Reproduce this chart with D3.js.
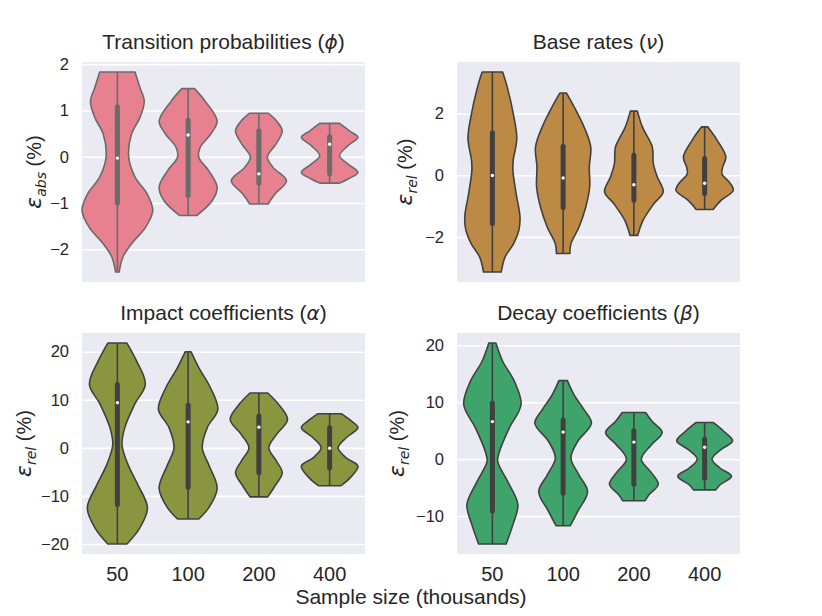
<!DOCTYPE html>
<html>
<head>
<meta charset="utf-8">
<script src="https://cdn.jsdelivr.net/npm/d3@7"></script>
<style>
  body { margin: 0; background: #fff; }
  text { font-family: "Liberation Sans", Arial, sans-serif; fill: #262626; }
</style>
</head>
<body>
<script>
// categories and labels
var sampleSizes = ["50", "100", "200", "400"];
var titles = ["Transition probabilities", "Base rates", "Impact coefficients", "Decay coefficients"];
var greek = ["ϕ", "ν", "α", "β"];
var errSub = ["abs", "rel", "rel", "rel"];
var yTicks = [[-2, -1, 0, 1, 2], [-2, 0, 2], [-20, -10, 0, 10, 20], [-10, 0, 10, 20]];

// violin outlines: [error value, relative width]
var phiShape = [
  [[1.83,0.50],[1.49,0.64],[1.2,0.76],[0.85,0.64],[0.49,0.40],[-0.01,0.32],[-0.44,0.50],[-0.8,0.84],[-1.16,1.0],[-1.52,0.80],[-1.88,0.40],[-2.16,0.16],[-2.49,0.05]],
  [[1.47,0.18],[1.2,0.48],[0.77,0.82],[0.49,0.64],[0.2,0.34],[-0.01,0.30],[-0.3,0.58],[-0.66,0.82],[-0.95,0.68],[-1.27,0.24]],
  [[0.94,0.26],[0.77,0.50],[0.56,0.66],[0.27,0.48],[-0.01,0.24],[-0.23,0.40],[-0.52,0.78],[-0.8,0.46],[-1.02,0.26]],
  [[0.72,0.28],[0.56,0.56],[0.42,0.80],[0.24,0.52],[0.02,0.28],[-0.16,0.52],[-0.34,0.80],[-0.48,0.52],[-0.57,0.28]]
];
var nuShape = [
  [[3.35,0.29],[2.86,0.42],[2.0,0.59],[1.19,0.69],[0.49,0.59],[0.16,0.58],[-0.59,0.67],[-1.35,0.78],[-1.78,0.75],[-2.22,0.60],[-2.65,0.36],[-3.14,0.25]],
  [[2.67,0.09],[2.22,0.31],[1.57,0.59],[0.92,0.78],[0.27,0.74],[-0.38,0.75],[-1.03,0.64],[-1.68,0.45],[-2.22,0.22],[-2.54,0.19]],
  [[2.08,0.10],[1.57,0.24],[0.92,0.52],[0.38,0.55],[-0.05,0.66],[-0.54,0.83],[-0.92,0.57],[-1.46,0.26],[-1.95,0.11]],
  [[1.57,0.085],[1.14,0.35],[0.59,0.60],[0.27,0.51],[0.05,0.49],[-0.27,0.73],[-0.49,0.81],[-0.81,0.47],[-1.11,0.24]]
];
var alphaShape = [
  [[21.8,0.27],[18.1,0.54],[13.2,0.79],[9.1,0.49],[4.2,0.21],[0.7,0.13],[-3.5,0.30],[-7.7,0.58],[-12.5,0.85],[-16.7,0.63],[-20.0,0.27]],
  [[20.0,0.08],[16.7,0.30],[12.5,0.63],[8.0,0.84],[4.2,0.54],[0.0,0.40],[-3.5,0.58],[-8.4,0.82],[-12.5,0.58],[-14.8,0.30]],
  [[11.4,0.25],[9.1,0.55],[5.9,0.81],[2.8,0.50],[0.0,0.28],[-2.8,0.50],[-5.2,0.66],[-8.0,0.45],[-10.2,0.25]],
  [[7.1,0.33],[5.6,0.61],[4.2,0.80],[2.1,0.47],[0.0,0.24],[-2.1,0.47],[-3.8,0.80],[-6.3,0.57],[-7.9,0.31]]
];
var betaShape = [
  [[20.4,0.10],[17.2,0.29],[13.7,0.62],[9.6,0.81],[5.5,0.48],[1.35,0.20],[-0.4,0.15],[-3.9,0.43],[-8.0,0.72],[-11.5,0.58],[-14.9,0.39]],
  [[13.8,0.12],[11.3,0.31],[8.7,0.59],[6.3,0.80],[3.1,0.41],[0.2,0.22],[-2.8,0.45],[-5.7,0.69],[-9.2,0.41],[-11.7,0.20]],
  [[8.2,0.33],[6.6,0.52],[4.7,0.80],[2.5,0.49],[0.0,0.21],[-2.2,0.47],[-4.4,0.69],[-6.3,0.42],[-7.3,0.32]],
  [[6.45,0.24],[4.9,0.54],[3.2,0.79],[1.6,0.44],[0.0,0.21],[-1.6,0.44],[-3.0,0.76],[-4.5,0.44],[-5.4,0.31]]
];

// inner boxes: [q1, median, q3]
var phiBox = [[-1.0,-0.03,1.08],[-0.84,0.47,0.79],[-0.57,-0.37,0.56],[-0.37,0.27,0.43]];
var nuBox = [[-1.57,-0.01,1.38],[-1.05,-0.09,0.94],[-0.81,-0.31,0.66],[-0.59,-0.26,0.54]];
var alphaBox = [[-11.8,9.4,13.2],[-8.2,5.4,8.85],[-5.2,4.3,6.6],[-4.2,-0.1,4.2]];
var betaBox = [[-9.1,6.6,9.85],[-6.0,4.75,6.9],[-4.4,3.0,5.0],[-3.35,2.1,3.5]];

var shapes = [phiShape, nuShape, alphaShape, betaShape];
var boxes = [phiBox, nuBox, alphaBox, betaBox];
var fills = ["#e7808f", "#bc8a44", "#8a963f", "#3fa46b"];
var edges = ["#6b6b6b", "#404040", "#404040", "#404040"];

var svg = d3.select("body").append("svg")
    .attr("width", 822)
    .attr("height", 616);

// panel boxes in pixels
var cols = [[82, 365], [457, 740]];
var rows = [[62, 282], [333, 554]];
var labelX = [41, 412, 31, 404];

shapes.forEach(function(shape, k) {
    var col = cols[k % 2], row = rows[Math.floor(k / 2)];
    var g = svg.append("g");

    // y extent from data, padded 5% like matplotlib
    var all = [];
    shape.forEach(function(s) { s.forEach(function(p) { all.push(p[0]); }); });
    var ext = d3.extent(all), pad = (ext[1] - ext[0]) * 0.05;
    var y = d3.scaleLinear().domain([ext[0] - pad, ext[1] + pad]).range([row[1], row[0]]);
    var x = d3.scaleBand().domain(sampleSizes).range(col);
    var w = d3.scaleLinear().domain([0, 1]).range([0, x.bandwidth() / 2]);

    g.append("rect")
        .attr("x", col[0]).attr("y", row[0])
        .attr("width", col[1] - col[0]).attr("height", row[1] - row[0])
        .attr("fill", "#eaeaf2");

    // white grid
    var grid = g.append("g")
        .attr("transform", "translate(" + col[0] + ",0)")
        .call(d3.axisLeft(y).tickValues(yTicks[k]).tickSize(-(col[1] - col[0])).tickFormat(""));
    grid.select(".domain").remove();
    grid.selectAll("line").attr("stroke", "#fff").attr("stroke-width", 1.6);

    // y tick labels
    var ya = g.append("g")
        .attr("transform", "translate(" + col[0] + ",0)")
        .call(d3.axisLeft(y).tickValues(yTicks[k]).tickSize(0).tickPadding(13).tickFormat(d3.format("d")));
    ya.select(".domain").remove();
    ya.selectAll("text").style("font-size", "16.5px").style("font-family", null).attr("fill", "#262626");

    // x tick labels on bottom row
    if (k >= 2) {
        var xa = g.append("g")
            .attr("transform", "translate(0," + row[1] + ")")
            .call(d3.axisBottom(x).tickSize(0).tickPadding(13));
        xa.select(".domain").remove();
        xa.selectAll("text").style("font-size", "20px").style("font-family", null).attr("fill", "#262626");
    }

    shape.forEach(function(s, i) {
        var cx = x(sampleSizes[i]) + x.bandwidth() / 2;
        var area = d3.area()
            .curve(d3.curveCatmullRom.alpha(0.5))
            .y(function(d) { return y(d[0]); })
            .x0(function(d) { return cx - w(d[1]); })
            .x1(function(d) { return cx + w(d[1]); });
        g.append("path")
            .attr("d", area(s))
            .attr("fill", fills[k])
            .attr("stroke", edges[k])
            .attr("stroke-width", 1.6)
            .attr("stroke-linejoin", "round");

        var b = boxes[k][i];
        g.append("line")
            .attr("x1", cx).attr("x2", cx)
            .attr("y1", y(s[0][0])).attr("y2", y(s[s.length - 1][0]))
            .attr("stroke", edges[k]).attr("stroke-width", 1.6);
        g.append("line")
            .attr("x1", cx).attr("x2", cx)
            .attr("y1", y(b[2])).attr("y2", y(b[0]))
            .attr("stroke", edges[k]).attr("stroke-width", 5)
            .attr("stroke-linecap", "round");
        g.append("circle")
            .attr("cx", cx).attr("cy", y(b[1]))
            .attr("r", 1.7)
            .attr("fill", "#fff");
    });

    // title
    var t = g.append("text")
        .attr("x", (col[0] + col[1]) / 2)
        .attr("y", row[0] - 13)
        .attr("text-anchor", "middle")
        .style("font-size", "21px");
    t.append("tspan").text(titles[k] + " (");
    t.append("tspan").style("font-family", "'DejaVu Sans'").style("font-style", "italic").style("font-size", "20px").text(greek[k]);
    t.append("tspan").text(")");

    // y label
    var yl = g.append("text")
        .attr("transform", "translate(" + labelX[k] + "," + ((row[0] + row[1]) / 2) + ") rotate(-90)")
        .attr("text-anchor", "middle")
        .style("font-size", "20px");
    yl.append("tspan").style("font-family", "'DejaVu Sans'").style("font-style", "italic").style("font-size", "22px").text("ε");
    yl.append("tspan").attr("dy", 5).style("font-family", "'DejaVu Sans'").style("font-style", "italic").style("font-size", "14px").text(errSub[k]);
    yl.append("tspan").attr("dy", -5).text(" (%)");
});

svg.append("text")
    .attr("x", 411)
    .attr("y", 604)
    .attr("text-anchor", "middle")
    .style("font-size", "21px")
    .text("Sample size (thousands)");
</script>
</body>
</html>
